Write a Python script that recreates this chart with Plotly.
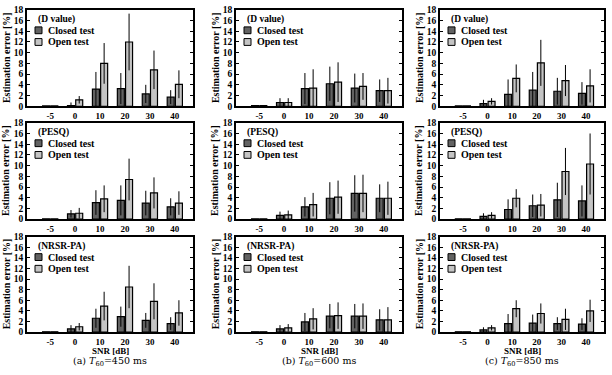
import plotly.graph_objects as go
from plotly.subplots import make_subplots

snr = ["-5", "0", "10", "20", "30", "40"]
metric_labels = ["(D value)", "(PESQ)", "(NRSR-PA)"]
captions = ["(a) <i>T</i><sub>60</sub>=450 ms", "(b) <i>T</i><sub>60</sub>=600 ms", "(c) <i>T</i><sub>60</sub>=850 ms"]
series_names = ["Closed test", "Open test"]
y_ticks = [0, 2, 4, 6, 8, 10, 12, 14, 16, 18]

# T60 = 450 ms
a_d_closed = [0.05, 0.1, 3.2, 3.3, 2.3, 1.7]
a_d_closed_err = [0, 0.6, 3.2, 2.9, 1.7, 1.3]
a_d_open = [0.05, 1.2, 8.0, 12.0, 6.8, 4.1]
a_d_open_err = [0, 0.7, 3.8, 5.3, 3.6, 2.6]
a_p_closed = [0.05, 1.0, 3.1, 3.5, 3.0, 2.3]
a_p_closed_err = [0, 0.7, 2.3, 2.8, 2.3, 1.6]
a_p_open = [0.05, 1.1, 3.8, 7.4, 4.9, 3.0]
a_p_open_err = [0, 1.0, 2.5, 3.9, 2.9, 2.2]
a_n_closed = [0.05, 0.6, 2.6, 2.9, 2.2, 1.6]
a_n_closed_err = [0, 0.7, 1.8, 1.9, 1.4, 1.2]
a_n_open = [0.05, 1.0, 4.9, 8.5, 5.8, 3.6]
a_n_open_err = [0, 0.7, 2.7, 4.0, 3.4, 2.4]

# T60 = 600 ms
b_d_closed = [0.1, 0.7, 3.3, 4.2, 3.4, 2.9]
b_d_closed_err = [0, 0.8, 2.9, 3.2, 2.7, 2.1]
b_d_open = [0.1, 0.7, 3.4, 4.5, 3.7, 2.9]
b_d_open_err = [0, 0.8, 3.5, 3.7, 2.5, 2.4]
b_p_closed = [0.05, 0.7, 2.3, 3.9, 4.8, 3.9]
b_p_closed_err = [0, 0.7, 1.8, 3.0, 3.4, 2.6]
b_p_open = [0.05, 0.8, 2.7, 4.1, 4.8, 3.9]
b_p_open_err = [0, 0.8, 2.2, 3.1, 3.5, 3.1]
b_n_closed = [0.05, 0.6, 1.9, 3.0, 3.0, 2.3]
b_n_closed_err = [0, 0.7, 1.7, 2.3, 2.3, 2.0]
b_n_open = [0.05, 0.8, 2.5, 3.1, 3.0, 2.3]
b_n_open_err = [0, 0.7, 2.0, 2.5, 2.4, 2.4]

# T60 = 850 ms
c_d_closed = [0.05, 0.5, 2.2, 3.0, 2.8, 2.4]
c_d_closed_err = [0, 0.7, 2.8, 3.4, 2.5, 2.1]
c_d_open = [0.05, 0.9, 5.2, 8.1, 4.8, 3.8]
c_d_open_err = [0, 0.6, 2.6, 4.3, 2.9, 3.1]
c_p_closed = [0.05, 0.5, 1.8, 2.5, 3.6, 3.4]
c_p_closed_err = [0, 0.6, 1.9, 2.1, 3.2, 2.9]
c_p_open = [0.05, 0.7, 3.9, 2.6, 8.9, 10.3]
c_p_open_err = [0, 0.6, 1.7, 2.1, 4.4, 5.7]
c_n_closed = [0.05, 0.4, 1.6, 1.7, 1.6, 1.5]
c_n_closed_err = [0, 0.5, 1.8, 1.6, 1.2, 1.1]
c_n_open = [0.05, 0.8, 4.4, 3.5, 2.4, 4.0]
c_n_open_err = [0, 0.5, 1.6, 1.9, 2.0, 2.1]

panels = [
    [(a_d_closed, a_d_closed_err, a_d_open, a_d_open_err),
     (b_d_closed, b_d_closed_err, b_d_open, b_d_open_err),
     (c_d_closed, c_d_closed_err, c_d_open, c_d_open_err)],
    [(a_p_closed, a_p_closed_err, a_p_open, a_p_open_err),
     (b_p_closed, b_p_closed_err, b_p_open, b_p_open_err),
     (c_p_closed, c_p_closed_err, c_p_open, c_p_open_err)],
    [(a_n_closed, a_n_closed_err, a_n_open, a_n_open_err),
     (b_n_closed, b_n_closed_err, b_n_open, b_n_open_err),
     (c_n_closed, c_n_closed_err, c_n_open, c_n_open_err)],
]

W, H = 612, 375
col_px = [(27, 193), (236, 402), (440, 604)]
row_px = [(5, 104), (121, 220), (238, 336)]
colors = ["#626262", "#c4c4c4"]
FONT = "Liberation Serif"

fig = make_subplots(rows=3, cols=3)

for r in range(3):
    for c in range(3):
        closed, closed_err, opn, opn_err = panels[r][c]
        for vals, errs, col, name in [(closed, closed_err, colors[0], series_names[0]),
                                      (opn, opn_err, colors[1], series_names[1])]:
            fig.add_trace(go.Bar(
                x=snr, y=vals, name=name, showlegend=False,
                marker=dict(color=col, line=dict(color="black", width=1.2)),
                error_y=dict(type="data", array=errs, visible=True,
                             color="black", thickness=1, width=0),
            ), row=r + 1, col=c + 1)

fig.update_layout(
    width=W, height=H, margin=dict(l=0, r=0, t=0, b=0),
    paper_bgcolor="white", plot_bgcolor="white",
    barmode="group", bargap=0.34, bargroupgap=0.15,
    font=dict(family=FONT, size=9, color="black"),
    showlegend=False,
)

annotations = []
shapes = []
idx = 0
for r in range(3):
    for c in range(3):
        idx += 1
        sfx = "" if idx == 1 else str(idx)
        x0, x1 = col_px[c]
        y0, y1 = row_px[r]
        fig.layout["xaxis" + sfx].update(
            domain=[x0 / W, x1 / W], type="category", range=[-0.93, 5.73],
            showline=True, linecolor="black", linewidth=1.5, mirror=True,
            ticks="", showgrid=False, zeroline=False, ticklabelstandoff=0,
            tickfont=dict(family=FONT, size=9, weight="bold"),
        )
        fig.layout["yaxis" + sfx].update(
            domain=[1 - y1 / H, 1 - y0 / H], range=[0, 18],
            tickvals=y_ticks, ticktext=[str(v) for v in y_ticks],
            showline=True, linecolor="black", linewidth=1.5, mirror="ticks",
            ticks="inside", ticklen=3, tickwidth=1, tickcolor="black",
            showgrid=False, zeroline=False,
            tickfont=dict(family=FONT, size=9.5, weight="bold"),
        )
        xd = "x" + sfx + " domain"
        yd = "y" + sfx + " domain"
        pw = x1 - x0
        ph = y1 - y0
        # y title
        annotations.append(dict(
            xref=xd, yref=yd, x=0, y=0.5, xshift=-21, showarrow=False,
            text="Estimation error [%]", textangle=-90,
            font=dict(family=FONT, size=10, weight="bold"),
            xanchor="center", yanchor="middle"))
        # legend
        annotations.append(dict(
            xref=xd, yref=yd, x=9 / pw, y=1 - 10 / ph, showarrow=False,
            text=metric_labels[r], xanchor="left", yanchor="middle",
            font=dict(family=FONT, size=9.5, weight="bold")))
        for k, (name, yc) in enumerate([(series_names[0], 21), (series_names[1], 33)]):
            shapes.append(dict(
                type="rect", xref=xd, yref=yd,
                x0=8 / pw, x1=15 / pw, y0=1 - (yc + 3.5) / ph, y1=1 - (yc - 3.5) / ph,
                fillcolor=colors[k], line=dict(color="black", width=1)))
            annotations.append(dict(
                xref=xd, yref=yd, x=19 / pw, y=1 - yc / ph, showarrow=False,
                text=name, xanchor="left", yanchor="middle",
                font=dict(family=FONT, size=10, weight="bold")))
        if r == 2:
            annotations.append(dict(
                xref=xd, yref="paper", x=0.5, y=1 - 355 / H, showarrow=False,
                text="SNR [dB]", xanchor="center", yanchor="middle",
                font=dict(family=FONT, size=9, weight="bold")))
            annotations.append(dict(
                xref=xd, yref="paper", x=0.5, y=1 - 366 / H, showarrow=False,
                text=captions[c], xanchor="center", yanchor="middle",
                font=dict(family="DejaVu Serif", size=9.5)))

fig.update_layout(annotations=annotations, shapes=shapes)
fig.write_html("out.html")
